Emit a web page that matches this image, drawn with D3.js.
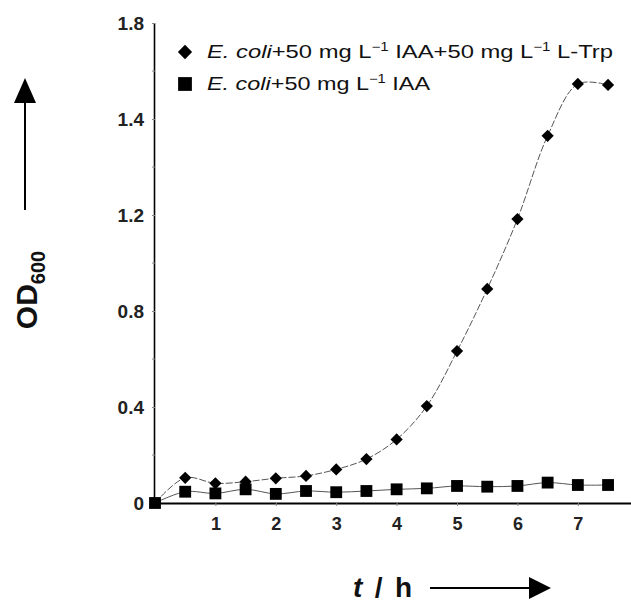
<!DOCTYPE html>
<html>
<head>
<meta charset="utf-8">
<script src="https://cdn.jsdelivr.net/npm/d3@7"></script>
<style>
  body { margin: 0; background: #fff; }
  text { font-family: Arial, "Liberation Sans", sans-serif; }
</style>
</head>
<body>
<div id="chart"></div>
<script>
// Data (OD600 over time, hours)
const hours = [0, 0.5, 1, 1.5, 2, 2.5, 3, 3.5, 4, 4.5, 5, 5.5, 6, 6.5, 7, 7.5];
const trpValues = [0, 0.105, 0.082, 0.089, 0.103, 0.113, 0.14, 0.183, 0.265, 0.404, 0.633, 0.892, 1.183, 1.365, 1.546, 1.542];
const iaaValues = [0, 0.047, 0.04, 0.057, 0.038, 0.05, 0.045, 0.05, 0.057, 0.061, 0.071, 0.068, 0.071, 0.085, 0.075, 0.075];

// tick labels as printed on the original axis
const yTickLabels = [0, 0.4, 0.8, 1.2, 1.4, 1.8];
const yMinorTicks = [0.2, 0.6, 1.0, 1.3, 1.6];
const xTickLabels = [1, 2, 3, 4, 5, 6, 7];

const width = 631;
const height = 604;
const x0 = 155, y0 = 503, yTop = 23;

const svg = d3.select('#chart')
  .append('svg')
  .attr('width', width)
  .attr('height', height);

svg.append('rect').attr('width', width).attr('height', height).attr('fill', '#fff');

// x scale: one hour ~ 60.4 px
const x = d3.scaleLinear().domain([0, 7.88]).range([x0, width]);
// y scale is piecewise because the printed labels are unevenly spaced
const yStep = (y0 - yTop) / (yTickLabels.length - 1);
const y = d3.scaleLinear()
  .domain(yTickLabels)
  .range(yTickLabels.map((d, i) => y0 - i * yStep));

// lines (smoothed like the original)
const line = d3.line()
  .x(d => x(d[0]))
  .y(d => y(d[1]))
  .curve(d3.curveCatmullRom.alpha(0.5));

const trpData = hours.map((h, i) => [h, trpValues[i]]);
const iaaData = hours.map((h, i) => [h, iaaValues[i]]);

svg.append('path')
  .datum(trpData)
  .attr('d', line)
  .attr('fill', 'none')
  .attr('stroke', '#555')
  .attr('stroke-width', 1)
  .attr('stroke-dasharray', '7,2');

svg.append('path')
  .datum(iaaData)
  .attr('d', line)
  .attr('fill', 'none')
  .attr('stroke', '#555')
  .attr('stroke-width', 1);

// axes
const yAxis = d3.axisLeft(y)
  .tickValues(yTickLabels)
  .tickSize(3)
  .tickPadding(8)
  .tickFormat(d => d === 0 ? '0' : d3.format('.1f')(d));

const yAxisG = svg.append('g')
  .attr('transform', `translate(${x0},0)`)
  .call(yAxis);

yAxisG.select('.domain').attr('stroke-width', 1.6).attr('d', `M-0.5,${yTop}V${y0}`);
yAxisG.selectAll('.tick line').attr('stroke', '#888');
yAxisG.selectAll('.tick text')
  .attr('font-size', 19)
  .attr('font-weight', 'bold')
  .attr('fill', '#222');

yAxisG.selectAll('.minor')
  .data(yMinorTicks)
  .enter().append('line')
  .attr('x1', -3).attr('x2', 0)
  .attr('y1', d => y(d)).attr('y2', d => y(d))
  .attr('stroke', '#888');

const xAxis = d3.axisBottom(x)
  .tickValues(xTickLabels)
  .tickSize(3)
  .tickPadding(11)
  .tickFormat(d3.format('d'));

const xAxisG = svg.append('g')
  .attr('transform', `translate(0,${y0})`)
  .call(xAxis);

xAxisG.select('.domain').attr('stroke-width', 2.2).attr('d', `M${x0},0.5H${width}`);
xAxisG.selectAll('.tick line').attr('stroke', '#888');
xAxisG.selectAll('.tick text')
  .attr('font-size', 18)
  .attr('font-weight', 'bold')
  .attr('fill', '#222');

// markers
const diamond = d3.symbol().type(d3.symbolDiamond2).size(95);
const square = d3.symbol().type(d3.symbolSquare).size(140);

svg.append('g').selectAll('path')
  .data(iaaData)
  .enter().append('path')
  .attr('d', square)
  .attr('transform', d => `translate(${x(d[0])},${y(d[1])})`)
  .attr('fill', '#000');

svg.append('g').selectAll('path')
  .data(trpData.slice(1))
  .enter().append('path')
  .attr('d', diamond)
  .attr('transform', d => `translate(${x(d[0])},${y(d[1])})`)
  .attr('fill', '#000');

// legend
const legend = svg.append('g');
const legendRows = [
  { shape: 'diamond', cy: 52, base: 58, len: 406, parts: [['E. coli', 'italic'], ['+50 mg L'], ['−1', 'sup'], [' IAA+50 mg L'], ['−1', 'sup'], [' L-Trp']] },
  { shape: 'square', cy: 84, base: 90, len: 223, parts: [['E. coli', 'italic'], ['+50 mg L'], ['−1', 'sup'], [' IAA']] }
];

legendRows.forEach(row => {
  const sym = row.shape === 'diamond'
    ? d3.symbol().type(d3.symbolDiamond2).size(130)
    : d3.symbol().type(d3.symbolSquare).size(190);
  legend.append('path')
    .attr('d', sym())
    .attr('transform', `translate(185,${row.cy})`)
    .attr('fill', '#000');
  const t = legend.append('text')
    .attr('x', 207)
    .attr('y', row.base)
    .attr('font-size', 19)
    .attr('fill', '#111')
    .attr('textLength', row.len)
    .attr('lengthAdjust', 'spacingAndGlyphs');
  let raised = false;
  row.parts.forEach(p => {
    const span = t.append('tspan').text(p[0]);
    if (p[1] === 'italic') span.attr('font-style', 'italic');
    if (p[1] === 'sup') {
      span.attr('font-size', 12).attr('dy', -7);
      raised = true;
    } else if (raised) {
      span.attr('dy', 7);
      raised = false;
    }
  });
});

// y axis title with arrow
const yTitle = svg.append('text')
  .attr('transform', 'translate(37,290) rotate(-90)')
  .attr('text-anchor', 'middle')
  .attr('font-size', 30)
  .attr('font-weight', 'bold')
  .attr('fill', '#111');
yTitle.append('tspan').text('OD');
yTitle.append('tspan').text('600').attr('font-size', 20).attr('dy', 8);

svg.append('line')
  .attr('x1', 25).attr('x2', 25)
  .attr('y1', 210).attr('y2', 100)
  .attr('stroke', '#000').attr('stroke-width', 2);
svg.append('path')
  .attr('d', 'M25,78 L14,103 L36,103 Z')
  .attr('fill', '#000');

// x axis title with arrow
const xTitle = svg.append('text')
  .attr('x', 353)
  .attr('y', 597)
  .attr('font-size', 28)
  .attr('font-weight', 'bold')
  .attr('fill', '#111')
  .attr('textLength', 59)
  .attr('lengthAdjust', 'spacing');
xTitle.append('tspan').text('t').attr('font-style', 'italic');
xTitle.append('tspan').text(' / h');

svg.append('line')
  .attr('x1', 430).attr('x2', 532)
  .attr('y1', 588).attr('y2', 588)
  .attr('stroke', '#000').attr('stroke-width', 2);
svg.append('path')
  .attr('d', 'M551,588 L529,577 L529,599 Z')
  .attr('fill', '#000');
</script>
</body>
</html>
